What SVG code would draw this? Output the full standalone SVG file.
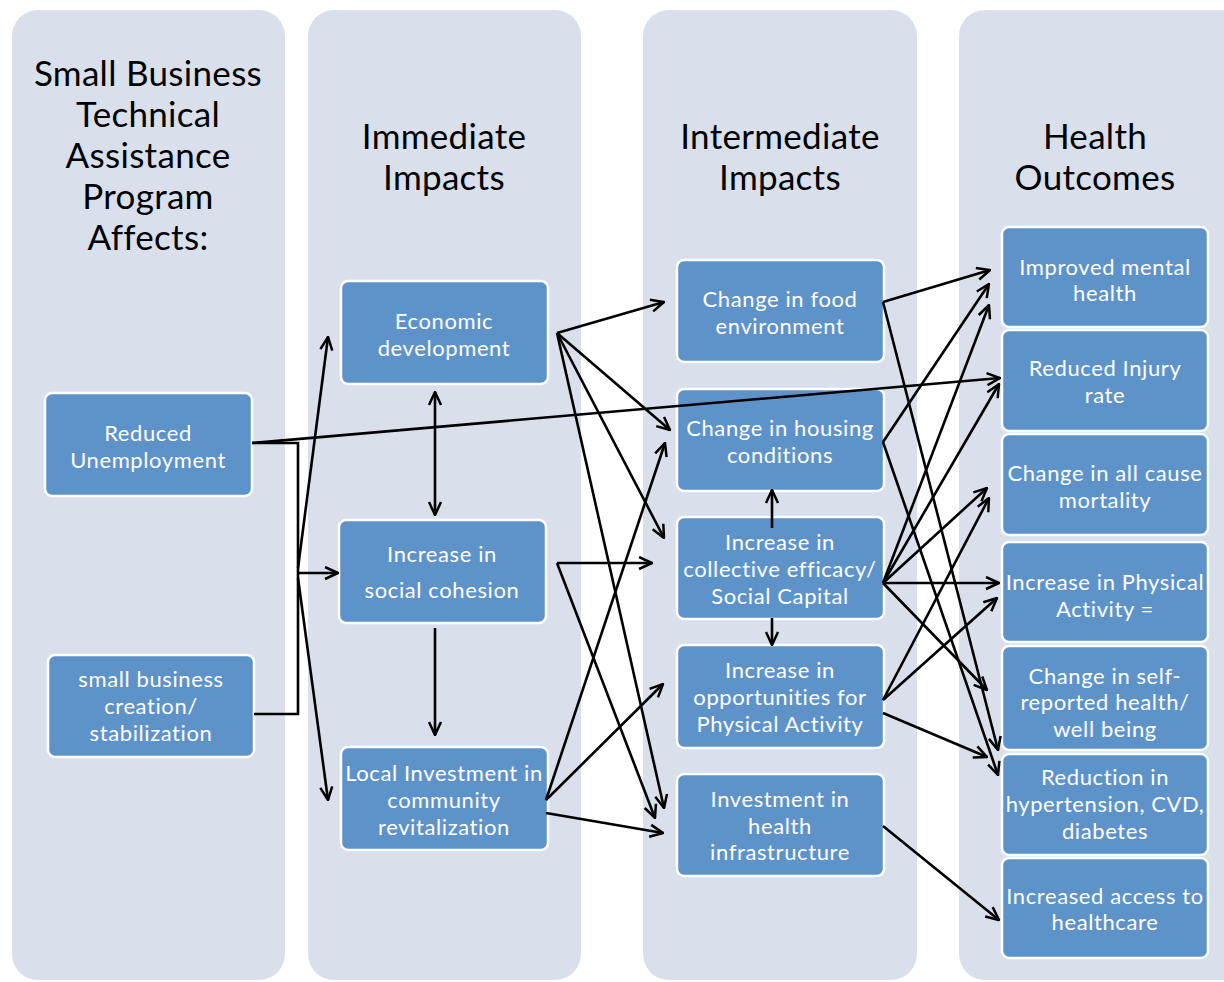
<svg xmlns="http://www.w3.org/2000/svg" width="1224" height="982" viewBox="0 0 1224 982">
<defs>
<marker id="ah" viewBox="0 0 15 15" refX="14" refY="7.5" markerWidth="15" markerHeight="15" markerUnits="userSpaceOnUse" orient="auto-start-reverse">
<path d="M1,1.5 L14,7.5 L1,13.5" fill="none" stroke="#000" stroke-width="2.5" stroke-linejoin="miter"/>
</marker>
<style>
.col{fill:#D9E0EC}
.node rect{fill:#5E93CA;stroke:#fff;stroke-width:2.5}
.node text{fill:#fff;font-family:Lato,"Open Sans",sans-serif;font-size:22px;letter-spacing:0.6px;text-anchor:middle}
.title{fill:#000;font-family:Lato,"Open Sans",sans-serif;font-size:35px;letter-spacing:0.3px;text-anchor:middle}
.c line,.c polyline{stroke:#000;stroke-width:2.6;fill:none}
.a{marker-end:url(#ah)}
.d{marker-start:url(#ah);marker-end:url(#ah)}
</style>
</defs>
<rect width="1224" height="982" fill="#fff"/>
<g id="columns">
<rect class="col" x="12" y="10" width="273" height="970" rx="26"/>
<rect class="col" x="308" y="10" width="273" height="970" rx="26"/>
<rect class="col" x="643" y="10" width="274" height="970" rx="26"/>
<rect class="col" x="959" y="10" width="290" height="970" rx="26"/>
</g>
<g id="titles">
<text class="title"><tspan x="148" y="86">Small Business</tspan><tspan x="148" y="127">Technical</tspan><tspan x="148" y="168">Assistance</tspan><tspan x="148" y="209">Program</tspan><tspan x="148" y="250">Affects:</tspan></text>
<text class="title"><tspan x="444" y="149">Immediate</tspan><tspan x="444" y="190">Impacts</tspan></text>
<text class="title"><tspan x="780" y="149">Intermediate</tspan><tspan x="780" y="190">Impacts</tspan></text>
<text class="title"><tspan x="1095" y="149">Health</tspan><tspan x="1095" y="190">Outcomes</tspan></text>
</g>
<g id="n-unemployment" class="node"><rect x="45" y="393" width="207" height="103" rx="7"/><text><tspan x="148" y="441">Reduced</tspan><tspan x="148" y="468">Unemployment</tspan></text></g>
<g id="n-smallbiz" class="node"><rect x="48" y="655" width="206" height="102" rx="7"/><text><tspan x="151" y="687">small business</tspan><tspan x="151" y="714">creation/</tspan><tspan x="151" y="741">stabilization</tspan></text></g>
<g id="n-econ" class="node"><rect x="341" y="281" width="207" height="103" rx="7"/><text><tspan x="444" y="329">Economic</tspan><tspan x="444" y="356">development</tspan></text></g>
<g id="n-cohesion" class="node"><rect x="339" y="520" width="207" height="103" rx="7"/><text><tspan x="442" y="562">Increase in</tspan><tspan x="442" y="598">social cohesion</tspan></text></g>
<g id="n-localinv" class="node"><rect x="341" y="747" width="207" height="103" rx="7"/><text><tspan x="444" y="781">Local Investment in</tspan><tspan x="444" y="808">community</tspan><tspan x="444" y="835">revitalization</tspan></text></g>
<g id="n-food" class="node"><rect x="677" y="260" width="207" height="102" rx="7"/><text><tspan x="780" y="307">Change in food</tspan><tspan x="780" y="334">environment</tspan></text></g>
<g id="n-housing" class="node"><rect x="677" y="389" width="207" height="102" rx="7"/><text><tspan x="780" y="436">Change in housing</tspan><tspan x="780" y="463">conditions</tspan></text></g>
<g id="n-efficacy" class="node"><rect x="677" y="517" width="207" height="102" rx="7"/><text><tspan x="780" y="550">Increase in</tspan><tspan x="780" y="577">collective efficacy/</tspan><tspan x="780" y="604">Social Capital</tspan></text></g>
<g id="n-paopp" class="node"><rect x="677" y="645" width="207" height="103" rx="7"/><text><tspan x="780" y="678">Increase in</tspan><tspan x="780" y="705">opportunities for</tspan><tspan x="780" y="732">Physical Activity</tspan></text></g>
<g id="n-infra" class="node"><rect x="677" y="774" width="207" height="102" rx="7"/><text><tspan x="780" y="807">Investment in</tspan><tspan x="780" y="834">health</tspan><tspan x="780" y="860">infrastructure</tspan></text></g>
<g id="n-mental" class="node"><rect x="1002" y="227" width="206" height="100" rx="7"/><text><tspan x="1105" y="275">Improved mental</tspan><tspan x="1105" y="301">health</tspan></text></g>
<g id="n-injury" class="node"><rect x="1002" y="330" width="206" height="101" rx="7"/><text><tspan x="1105" y="376">Reduced Injury</tspan><tspan x="1105" y="403">rate</tspan></text></g>
<g id="n-mortality" class="node"><rect x="1002" y="434" width="206" height="101" rx="7"/><text><tspan x="1105" y="481">Change in all cause</tspan><tspan x="1105" y="508">mortality</tspan></text></g>
<g id="n-pa" class="node"><rect x="1002" y="542" width="206" height="100" rx="7"/><text><tspan x="1105" y="590">Increase in Physical</tspan><tspan x="1105" y="617">Activity =</tspan></text></g>
<g id="n-selfrep" class="node"><rect x="1002" y="646" width="206" height="104" rx="7"/><text><tspan x="1105" y="684">Change in self-</tspan><tspan x="1105" y="710">reported health/</tspan><tspan x="1105" y="737">well being</tspan></text></g>
<g id="n-hyper" class="node"><rect x="1002" y="754" width="206" height="101" rx="7"/><text><tspan x="1105" y="785">Reduction in</tspan><tspan x="1105" y="812">hypertension, CVD,</tspan><tspan x="1105" y="839">diabetes</tspan></text></g>
<g id="n-access" class="node"><rect x="1002" y="858" width="206" height="100" rx="7"/><text><tspan x="1105" y="904">Increased access to</tspan><tspan x="1105" y="930">healthcare</tspan></text></g>
<g id="connectors" class="c">
<polyline points="252,443 298,443 298,714 254,714"/>
<line class="a" x1="252" y1="443" x2="1000" y2="378"/>
<line class="a" x1="298" y1="568" x2="328" y2="337"/>
<line class="a" x1="298" y1="573" x2="338" y2="573"/>
<line class="a" x1="298" y1="578" x2="328" y2="800"/>
<line class="d" x1="435" y1="392" x2="435" y2="515"/>
<line class="a" x1="435" y1="628" x2="435" y2="735"/>
<line class="a" x1="557" y1="333" x2="664" y2="302"/>
<line class="a" x1="557" y1="333" x2="670" y2="430"/>
<line class="a" x1="557" y1="333" x2="664" y2="538"/>
<line class="a" x1="557" y1="333" x2="664" y2="808"/>
<line class="a" x1="557" y1="563" x2="652" y2="563"/>
<line class="a" x1="557" y1="563" x2="655" y2="818"/>
<line class="a" x1="546" y1="800" x2="665" y2="443"/>
<line class="a" x1="546" y1="800" x2="663" y2="684"/>
<line class="a" x1="546" y1="813" x2="663" y2="833"/>
<line class="a" x1="772" y1="528" x2="772" y2="490"/>
<line class="a" x1="772" y1="618" x2="772" y2="645"/>
<line class="a" x1="883" y1="302" x2="990" y2="270"/>
<line class="a" x1="883" y1="302" x2="998" y2="750"/>
<line class="a" x1="883" y1="442" x2="989" y2="284"/>
<line class="a" x1="883" y1="442" x2="998" y2="775"/>
<line class="a" x1="883" y1="583" x2="989" y2="305"/>
<line class="a" x1="883" y1="583" x2="999" y2="384"/>
<line class="a" x1="883" y1="583" x2="987" y2="488"/>
<line class="a" x1="883" y1="583" x2="999" y2="583"/>
<line class="a" x1="883" y1="583" x2="987" y2="690"/>
<line class="a" x1="883" y1="700" x2="989" y2="498"/>
<line class="a" x1="883" y1="700" x2="997" y2="598"/>
<line class="a" x1="883" y1="713" x2="987" y2="757"/>
<line class="a" x1="883" y1="826" x2="999" y2="920"/>
</g>
</svg>
